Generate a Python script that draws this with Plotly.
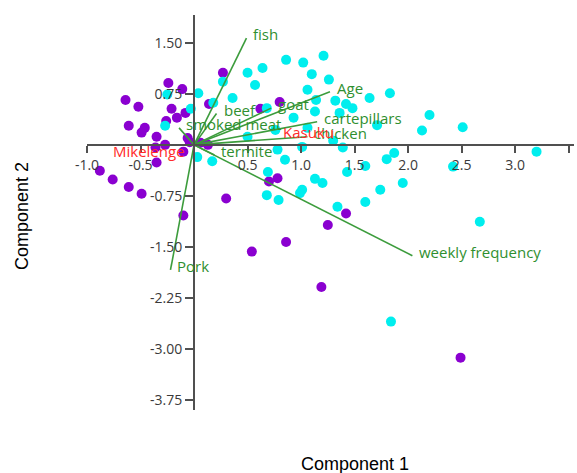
import plotly.graph_objects as go

# ---- data (Component 1, Component 2 scores) ----
purple_x = [0.27, -0.24, -0.11, -0.64, -0.52, -0.21, 0.14, -0.08, -0.16, -0.26, -0.61, -0.46,
            -0.49, -0.35, -0.06, -0.27, -0.10, -0.35, -0.88, -0.76, -0.61, -0.49, -0.10, 0.30,
            0.70, 0.78, 0.86, 0.54, 1.19, 1.42, 1.25, 2.49, 0.62, 0.80, 0.06, 0.13, -0.04, -0.36]
purple_y = [1.06, 0.91, 0.82, 0.66, 0.56, 0.53, 0.60, 0.47, 0.40, 0.35, 0.28, 0.25,
            0.18, 0.12, 0.10, 0.00, -0.10, -0.26, -0.38, -0.51, -0.62, -0.72, -1.04, -0.79,
            -0.54, -0.49, -1.43, -1.57, -2.09, -1.01, -1.18, -3.13, 0.53, 0.63, 0.03, 0.00, 0.04, -0.04]

cyan_x = [0.50, 0.27, 0.64, 0.57, 0.86, 1.02, 1.10, 1.06, 0.04, 0.36, 0.18, 0.68, 0.93, -0.03,
          -0.27, 0.50, 0.76, 0.03, 0.17, 0.69, 0.85, -0.25, 1.21, 1.26, 1.14, 1.32, 1.42, 1.48,
          1.64, 1.83, 1.13, 1.71, 2.20, 2.13, 2.51, 1.30, 1.39, 3.20, 1.80, 1.87, 1.60, 2.42,
          1.01, 1.43, 1.13, 1.20, 1.01, 0.99, 1.74, 1.95, 1.60, 1.34, 2.67, 0.68, 0.79, 0.78,
          1.84, 1.36, 1.06]
cyan_y = [1.06, 0.93, 1.13, 0.88, 1.25, 1.21, 1.04, 0.81, 0.76, 0.69, 0.62, 0.54, 0.40, 0.53,
          0.28, 0.12, 0.22, -0.18, -0.24, -0.40, -0.22, 0.74, 1.31, 0.96, 0.66, 0.65, 0.60, 0.54,
          0.69, 0.76, 0.49, 0.29, 0.44, 0.21, 0.26, 0.06, -0.04, -0.10, -0.21, -0.12, -0.31, -0.32,
          -0.03, -0.40, -0.50, -0.56, -0.66, -0.71, -0.66, -0.56, -0.84, -0.91, -1.13, -0.74, -0.81, -0.07,
          -2.60, 0.47, 0.25]

# loadings (biplot vectors)
load_names = ["fish", "Age", "goat", "beef", "smoked meat", "cartepillars", "chicken",
              "termite", "weekly frequency", "Pork"]
load_x = [0.49, 1.27, 0.72, 0.21, -0.14, 1.15, 1.06, 0.19, 2.04, -0.22]
load_y = [1.57, 0.78, 0.54, 0.46, 0.25, 0.34, 0.12, -0.15, -1.63, -1.84]

# group labels
group_names = ["Mikelenge", "Kasuku"]
group_x = [-0.42, 1.07]
group_y = [-0.09, 0.19]

# axis ticks
x_ticks = [-1.0, -0.5, 0.5, 1.0, 1.5, 2.0, 2.5, 3.0, 3.5]
x_tick_text = ["-1.0", "-0.5", "0.5", "1.0", "1.5", "2.0", "2.5", "3.0", "3.5"]
y_ticks = [1.5, 0.75, -0.75, -1.5, -2.25, -3.0, -3.75]
y_tick_text = ["1.50", "0.75", "-0.75", "-1.50", "-2.25", "-3.00", "-3.75"]

X_RANGE = [-1.0, 3.55]
Y_RANGE = [-3.9, 1.91]

PURPLE = "#8A00D0"
CYAN = "#00EEEE"
GREEN_LINE = "#3C9C3C"
GREEN_TEXT = "#2F8F2F"
RED_TEXT = "#FF2A2A"
AXIS = "#505050"

fig = go.Figure()

fig.add_trace(go.Scatter(x=purple_x, y=purple_y, mode="markers",
                         marker=dict(color=PURPLE, size=10, line=dict(width=0)),
                         showlegend=False, hoverinfo="skip"))
fig.add_trace(go.Scatter(x=cyan_x, y=cyan_y, mode="markers",
                         marker=dict(color=CYAN, size=10, line=dict(width=0)),
                         showlegend=False, hoverinfo="skip"))

lx, ly = [], []
for vx, vy in zip(load_x, load_y):
    lx += [0, vx, None]
    ly += [0, vy, None]
fig.add_trace(go.Scatter(x=lx, y=ly, mode="lines",
                         line=dict(color=GREEN_LINE, width=1.6),
                         showlegend=False, hoverinfo="skip"))

annotations = []
for name, vx, vy in zip(load_names, load_x, load_y):
    annotations.append(dict(x=vx, y=vy, xref="x", yref="y", text=name, showarrow=False,
                            xanchor="left", yanchor="middle", xshift=5, yshift=4,
                            font=dict(family="Open Sans, sans-serif", size=15, color=GREEN_TEXT)))
for name, gx, gy in zip(group_names, group_x, group_y):
    annotations.append(dict(x=gx, y=gy, xref="x", yref="y", text=name, showarrow=False,
                            xanchor="center", yanchor="middle",
                            font=dict(family="Open Sans, sans-serif", size=15, color=RED_TEXT)))

annotations.append(dict(x=0.551, y=-0.137, xref="paper", yref="paper", text="Component 1",
                        showarrow=False, xanchor="center", yanchor="middle",
                        font=dict(family="Liberation Sans, Arial, sans-serif", size=18, color="#000000")))
annotations.append(dict(x=-0.1335, y=0.491, xref="paper", yref="paper", text="Component 2",
                        showarrow=False, textangle=-90, xanchor="center", yanchor="middle",
                        font=dict(family="Liberation Sans, Arial, sans-serif", size=18, color="#000000")))

x_pos = (0 - X_RANGE[0]) / (X_RANGE[1] - X_RANGE[0])
y_pos = (0 - Y_RANGE[0]) / (Y_RANGE[1] - Y_RANGE[0])

tick_font = dict(family="Open Sans, sans-serif", size=14, color="#3A3A3A")

fig.update_layout(
    width=577, height=473,
    margin=dict(l=87, r=3, t=15, b=63),
    paper_bgcolor="white", plot_bgcolor="white",
    showlegend=False,
    xaxis=dict(range=X_RANGE, anchor="free", position=y_pos, side="bottom",
               showline=True, linecolor=AXIS, linewidth=2, showgrid=False, zeroline=False,
               tickmode="array", tickvals=x_ticks, ticktext=x_tick_text,
               ticks="outside", ticklen=7, tickwidth=1.5, tickcolor=AXIS,
               tickfont=tick_font),
    yaxis=dict(range=Y_RANGE, anchor="free", position=x_pos, side="left",
               showline=True, linecolor=AXIS, linewidth=2, showgrid=False, zeroline=False,
               tickmode="array", tickvals=y_ticks, ticktext=y_tick_text,
               ticks="outside", ticklen=8, tickwidth=1.5, tickcolor=AXIS,
               tickfont=tick_font),
    annotations=annotations,
)

fig.write_html("out.html")
